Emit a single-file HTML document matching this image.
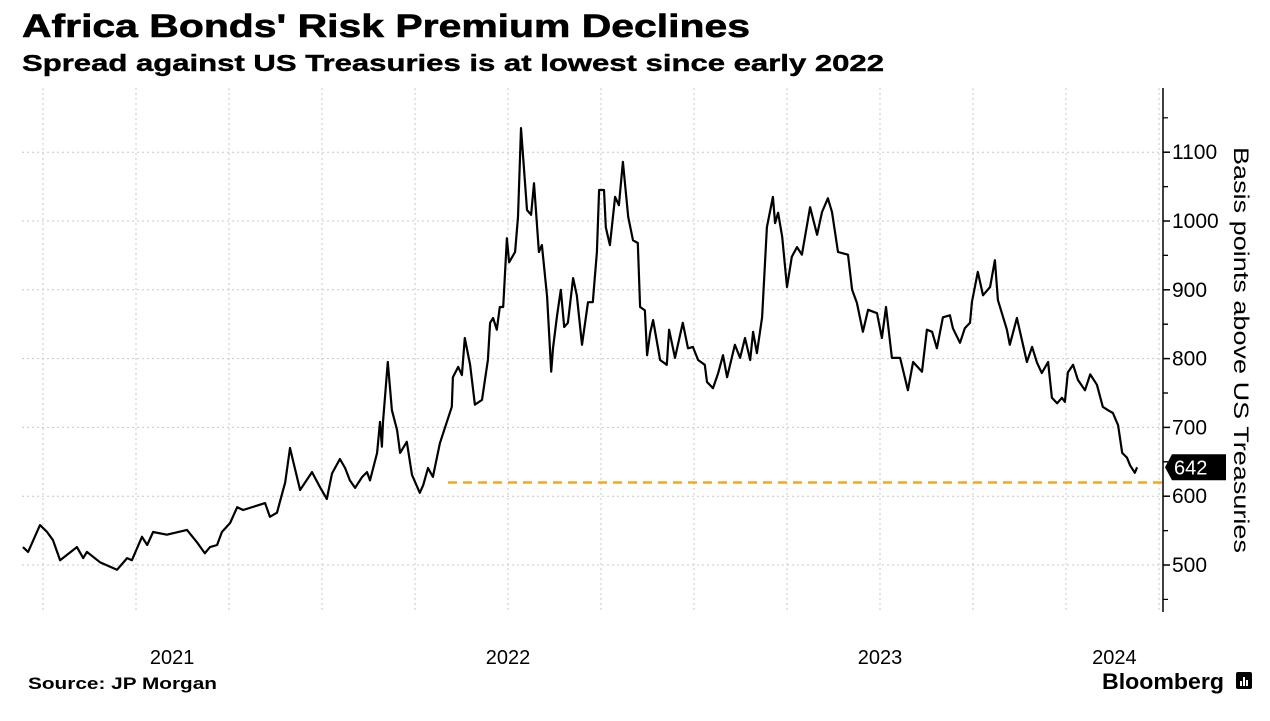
<!DOCTYPE html>
<html><head><meta charset="utf-8"><style>
body{margin:0;background:#fff;width:1270px;height:716px;overflow:hidden;font-family:"Liberation Sans",sans-serif}
</style></head><body>
<svg width="1270" height="716" viewBox="0 0 1270 716">
<text x="22" y="37" font-size="32" font-weight="bold" fill="#000" textLength="728" lengthAdjust="spacingAndGlyphs" stroke="#000" stroke-width="0.6">Africa Bonds' Risk Premium Declines</text>
<text x="22" y="71" font-size="23" font-weight="bold" fill="#000" textLength="862" lengthAdjust="spacingAndGlyphs" stroke="#000" stroke-width="0.4">Spread against US Treasuries is at lowest since early 2022</text>
<g id="grid"></g>
<g id="yaxis"></g>
<g id="xaxis"></g>
<line x1="448" x2="1162" id="refline" stroke="#f5a623" stroke-width="2.5" stroke-dasharray="9,6"/>
<path id="series" fill="none" stroke="#000" stroke-width="2.2" stroke-linejoin="round"/>
<g id="lastlabel"></g>
<text transform="translate(1234,350) rotate(90)" text-anchor="middle" font-size="21" fill="#000" textLength="406" lengthAdjust="spacingAndGlyphs">Basis points above US Treasuries</text>
<text x="28" y="689" font-size="17" font-weight="bold" fill="#000" textLength="189" lengthAdjust="spacingAndGlyphs">Source: JP Morgan</text>
<text x="1102" y="689" font-size="22" font-weight="bold" fill="#000" textLength="122" lengthAdjust="spacingAndGlyphs">Bloomberg</text>
<g><rect x="1236" y="672" width="16" height="17" rx="2" fill="#000"/><rect x="1240" y="681" width="2" height="5" fill="#fff"/><rect x="1243" y="677" width="2" height="9" fill="#fff"/><rect x="1246" y="680" width="2" height="6" fill="#fff"/></g>
</svg>
<script>
const dates=[0.196,0.210,0.242,0.261,0.277,0.296,0.341,0.358,0.368,0.403,0.449,0.476,0.489,0.516,0.530,0.546,0.583,0.637,0.664,0.685,0.699,0.718,0.731,0.753,0.772,0.788,0.847,0.860,0.879,0.892,0.901,0.914,0.927,0.941,0.973,0.995,1.013,1.027,1.048,1.062,1.075,1.089,1.108,1.121,1.129,1.148,1.156,1.161,1.164,1.177,1.188,1.202,1.210,1.228,1.242,1.263,1.272,1.285,1.298,1.317,1.349,1.352,1.366,1.376,1.384,1.398,1.411,1.430,1.446,1.452,1.460,1.470,1.478,1.487,1.497,1.503,1.519,1.527,1.535,1.551,1.562,1.570,1.583,1.591,1.605,1.616,1.621,1.632,1.642,1.651,1.661,1.675,1.685,1.699,1.715,1.728,1.739,1.745,1.758,1.763,1.774,1.788,1.798,1.809,1.823,1.836,1.849,1.855,1.868,1.874,1.882,1.890,1.909,1.927,1.933,1.949,1.970,1.984,1.997,2.011,2.029,2.035,2.051,2.065,2.078,2.089,2.110,2.124,2.137,2.151,2.159,2.169,2.183,2.196,2.212,2.218,2.226,2.237,2.250,2.263,2.277,2.290,2.312,2.331,2.344,2.360,2.371,2.387,2.414,2.425,2.438,2.454,2.468,2.492,2.505,2.516,2.532,2.554,2.575,2.589,2.613,2.626,2.640,2.653,2.669,2.688,2.696,2.715,2.728,2.742,2.747,2.763,2.777,2.796,2.809,2.817,2.841,2.849,2.868,2.895,2.909,2.922,2.935,2.952,2.962,2.976,2.989,2.997,3.005,3.019,3.032,3.051,3.065,3.083,3.099,3.113,3.126,3.140,3.151,3.164,3.172,3.185,3.191];
const spreads=[526,519,558,548,536,507,526,510,519,504,493,510,507,541,529,548,544,551,533,517,526,529,548,561,584,580,590,570,576,602,620,670,641,609,635,613,596,633,654,641,623,612,628,635,623,663,708,672,708,795,725,696,663,679,631,605,616,641,628,677,730,773,788,776,830,791,733,740,798,852,859,842,875,875,975,940,955,1006,1135,1016,1009,1055,955,965,890,781,815,863,900,846,852,917,892,820,882,882,955,1045,1045,991,965,1035,1023,1086,1006,972,968,875,870,805,837,856,798,791,842,801,852,815,817,798,791,766,757,779,805,773,820,801,830,798,839,808,860,991,1035,997,1012,977,904,948,962,951,1020,980,1013,1033,1013,955,951,900,881,839,871,866,830,875,801,801,754,795,781,842,839,815,860,863,844,823,844,852,882,926,892,904,943,885,842,820,859,795,817,794,779,795,743,735,743,737,780,791,769,754,777,762,730,725,721,703,663,656,645,634,642];
const yTicks=[500,600,700,800,900,1000,1100];
const xLabels=["2021","2022","2023","2024"];
const xLabelPos=[0.597,1.5,2.5,3.13];
const refValue=620;
const lastValue=642;
const NS="http://www.w3.org/2000/svg";
const X0=-50,PX=372;
function xs(t){return X0+t*PX;}
function ys(v){return 565-(v-500)*0.688;}
function mk(tag,attrs,parent){const e=document.createElementNS(NS,tag);for(const k in attrs)e.setAttribute(k,attrs[k]);parent.appendChild(e);return e;}
const grid=document.getElementById('grid'),yax=document.getElementById('yaxis'),xax=document.getElementById('xaxis');
for(let q=0.25;q<=3.26;q+=0.25){
  const l=mk('line',{x1:xs(q),x2:xs(q),y1:88,y2:612,stroke:'#c8c8c8','stroke-width':1,'stroke-dasharray':'2,3'},grid);
  
  
}
yTicks.forEach(v=>{
  const l=mk('line',{x1:22,x2:1162,y1:ys(v),y2:ys(v),stroke:'#c8c8c8','stroke-width':1,'stroke-dasharray':'2,3'},grid);
  
  
  const tk=mk('line',{x1:1163,x2:1170,y1:ys(v),y2:ys(v),stroke:'#000','stroke-width':1.5},yax);
  
  
  const t=mk('text',{x:1172,y:ys(v)+7,'font-size':21,fill:'#000'},yax);
  t.textContent=v;
  
  
  [50,-50].forEach(d=>{const m=v+d;if(m>=450&&m<=1150){const mt=mk('line',{x1:1163,x2:1168,y1:ys(m),y2:ys(m),stroke:'#000','stroke-width':1.2},yax);
  
  }});
});
const ax=mk('line',{x1:1163,x2:1163,y1:88,y2:612,stroke:'#000','stroke-width':1.5},yax);


xLabels.forEach((s,i)=>{
  const t=mk('text',{x:xs(xLabelPos[i]),y:664,'font-size':20,'text-anchor':'middle',fill:'#000'},xax);
  t.textContent=s;
  
  
});
const rl=document.getElementById('refline');rl.setAttribute('y1',ys(refValue));rl.setAttribute('y2',ys(refValue));
document.getElementById('series').setAttribute('d',dates.map((t,i)=>(i?'L':'M')+xs(t).toFixed(1)+','+ys(spreads[i]).toFixed(1)).join(''));
const ll=document.getElementById('lastlabel'),ly=ys(lastValue);
mk('path',{d:`M1165,${ly} L1172,${ly-13} L1226,${ly-13} L1226,${ly+13} L1172,${ly+13} Z`,fill:'#000'},ll);
const lt=mk('text',{x:1174,y:ly+7,'font-size':20,fill:'#fff'},ll);lt.textContent=lastValue;
</script>
</body></html>
